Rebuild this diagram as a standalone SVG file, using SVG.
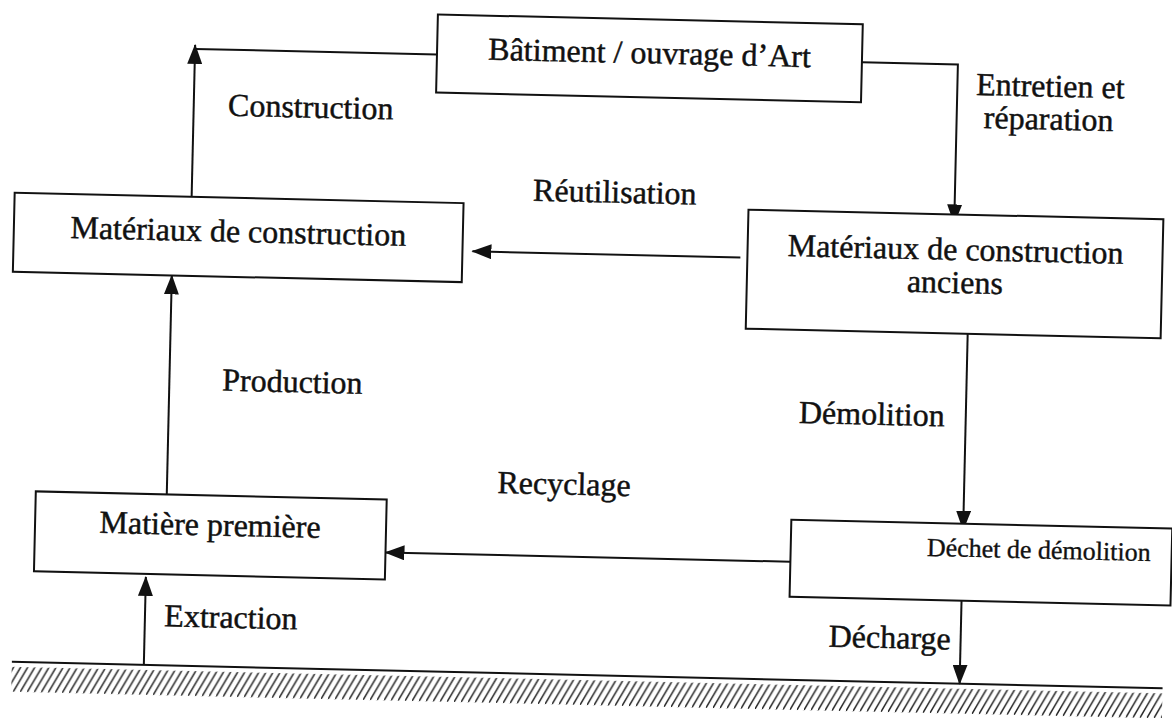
<svg xmlns="http://www.w3.org/2000/svg" width="1172" height="718" viewBox="0 0 1172 718">
  <style>
    .box { fill: #fff; stroke: #111; stroke-width: 2; }
    .lbl { font-family: "Liberation Serif", "Times New Roman", serif; font-size: 32px; fill: #111; stroke: #111; stroke-width: 0.45; text-anchor: middle; }
    .small { font-size: 26px; stroke-width: 0.35; }
    .wire { fill: none; stroke: #111; stroke-width: 2; }
    .arrow { marker-end: url(#head); }
  </style>
  <defs>
    <marker id="head" markerUnits="userSpaceOnUse" markerWidth="20" markerHeight="15" refX="19" refY="7.5" orient="auto">
      <path d="M0,0 L20,7.5 L0,15 z" fill="#111"/>
    </marker>
    <!-- "/" hatching of the ground, period 7 px -->
    <pattern id="hatch" patternUnits="userSpaceOnUse" x="0" y="680" width="7" height="25">
      <path d="M-14,25 L0,0 M-7,25 L7,0 M0,25 L14,0" stroke="#222" stroke-width="1.5" fill="none"/>
    </pattern>
  </defs>
  <rect width="1172" height="718" fill="#fff"/>

  <g transform="rotate(1.32 586 359)">
    <!-- ground surface -->
    <g id="ground">
      <rect x="19" y="680" width="1151" height="25" fill="url(#hatch)"/>
      <line x1="19" y1="675" x2="1170" y2="675" stroke="#111" stroke-width="2"/>
    </g>

    <!-- flows between the stages -->
    <g id="connectors">
      <path class="wire" d="M430,58 H188"/>
      <path class="wire arrow" d="M188,206 V54"/>
      <path class="wire arrow" d="M855,56 H951 V215"/>
      <path class="wire arrow" d="M738,254 H470"/>
      <path class="wire arrow" d="M967,325 V521"/>
      <path class="wire arrow" d="M170,504 V285"/>
      <path class="wire arrow" d="M795,557 H390"/>
      <path class="wire arrow" d="M151,675 V587"/>
      <path class="wire arrow" d="M967,592 V675"/>
    </g>

    <g id="flow-labels">
      <text class="lbl" x="305" y="124">Construction</text>
      <text class="lbl" x="1044" y="86">Entretien et</text>
      <text class="lbl" x="1043" y="119">réparation</text>
      <text class="lbl" x="611" y="202">Réutilisation</text>
      <text class="lbl" x="293" y="399">Production</text>
      <text class="lbl" x="873" y="418">Démolition</text>
      <text class="lbl" x="567" y="495">Recyclage</text>
      <text class="lbl" x="237" y="636">Extraction</text>
      <text class="lbl" x="896" y="641">Décharge</text>
    </g>

    <g id="node-batiment">
      <rect class="box" x="430" y="18" width="425" height="78"/>
      <text class="lbl" x="642.5" y="62">Bâtiment / ouvrage d’Art</text>
    </g>

    <g id="node-materiaux">
      <rect class="box" x="11" y="206" width="449" height="79"/>
      <text class="lbl" x="235.5" y="250">Matériaux de construction</text>
    </g>

    <g id="node-anciens">
      <rect class="box" x="745" y="206" width="415" height="119"/>
      <text class="lbl" x="953" y="251.5">Matériaux de construction</text>
      <text class="lbl" x="953" y="284.5">anciens</text>
    </g>

    <g id="node-matiere">
      <rect class="box" x="39" y="504" width="351" height="80"/>
      <text class="lbl" x="214" y="544">Matière première</text>
    </g>

    <g id="node-dechet">
      <rect class="box" x="795" y="515" width="381" height="77"/>
      <text class="lbl small" x="1043" y="548">Déchet de démolition</text>
    </g>
  </g>
</svg>
